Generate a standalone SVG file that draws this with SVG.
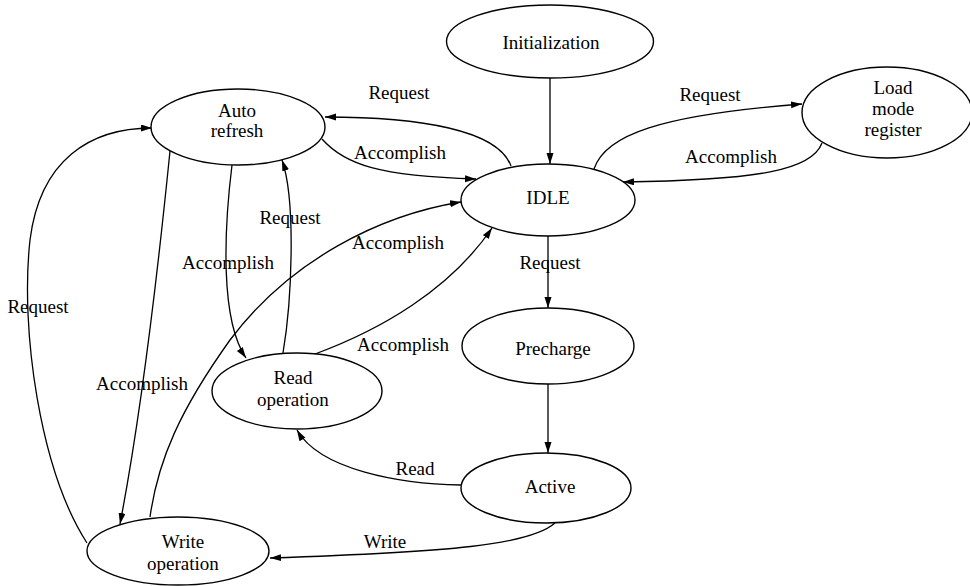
<svg xmlns="http://www.w3.org/2000/svg" width="970" height="586" viewBox="0 0 970 586">
<style>
.n ellipse{fill:#fff;stroke:#000;stroke-width:1.4}
text{font-family:"Liberation Serif","Times New Roman",serif;font-size:19px;fill:#000;text-anchor:middle}
#edges path{fill:none;stroke:#000;stroke-width:1.3;marker-end:url(#ah)}
</style>
<defs>
<marker id="ah" markerUnits="userSpaceOnUse" markerWidth="12" markerHeight="8" refX="11" refY="3.5" orient="auto">
<path d="M0,0 L11,3.5 L0,7 z" fill="#000"/>
</marker>
</defs>
<rect width="970" height="586" fill="#fff"/>
<g id="edges">
<path d="M550,78 L550,164"/>
<path d="M511,166 C498,130 420,117 325,117"/>
<path d="M322,139 C345,165 380,176 476,179"/>
<path d="M594,169 C605,135 660,115 802,104"/>
<path d="M822,143 C812,170 760,180 623,182"/>
<path d="M548,236 L548,308"/>
<path d="M548,384 L548,453"/>
<path d="M461,485 C400,484 320,470 297,430"/>
<path d="M555,523 C530,545 450,552 270,558"/>
<path d="M232,165 C224,230 220,320 246,358"/>
<path d="M283,353 C292,300 296,200 282,160"/>
<path d="M315,354 C380,330 450,290 492,228"/>
<path d="M150,517 C158,460 180,410 230,340 C290,260 380,215 461,202"/>
<path d="M170,151 C155,300 140,420 120,524"/>
<path d="M87,543 C40,470 20,330 30,240 C40,160 90,128 152,128"/>
</g>
<g id="edge-labels">
<text x="399" y="99">Request</text>
<text x="400" y="159">Accomplish</text>
<text x="710" y="101">Request</text>
<text x="731" y="163">Accomplish</text>
<text x="550" y="269">Request</text>
<text x="415" y="475">Read</text>
<text x="385" y="548">Write</text>
<text x="228" y="269">Accomplish</text>
<text x="290" y="224">Request</text>
<text x="403" y="351">Accomplish</text>
<text x="398" y="249">Accomplish</text>
<text x="142" y="390">Accomplish</text>
<text x="38" y="313">Request</text>
</g>
<g id="initialization" class="n"><ellipse cx="550" cy="41.5" rx="103.5" ry="36.5"/><text x="551" y="49">Initialization</text></g>
<g id="idle" class="n"><ellipse cx="548" cy="200" rx="87" ry="36"/><text x="548" y="204">IDLE</text></g>
<g id="load-mode-register" class="n"><ellipse cx="887" cy="112.5" rx="85" ry="45.5"/><text x="893" y="94">Load</text><text x="893" y="115">mode</text><text x="893" y="136">register</text></g>
<g id="auto-refresh" class="n"><ellipse cx="238" cy="127" rx="87" ry="38"/><text x="237" y="117">Auto</text><text x="237" y="137">refresh</text></g>
<g id="precharge" class="n"><ellipse cx="548" cy="346" rx="86" ry="38"/><text x="553" y="355">Precharge</text></g>
<g id="read-operation" class="n"><ellipse cx="297" cy="391" rx="85" ry="38"/><text x="293" y="384">Read</text><text x="293" y="406">operation</text></g>
<g id="active" class="n"><ellipse cx="546" cy="488" rx="85" ry="35"/><text x="550" y="493">Active</text></g>
<g id="write-operation" class="n"><ellipse cx="178" cy="551" rx="91" ry="34"/><text x="183" y="548">Write</text><text x="183" y="570">operation</text></g>
</svg>
